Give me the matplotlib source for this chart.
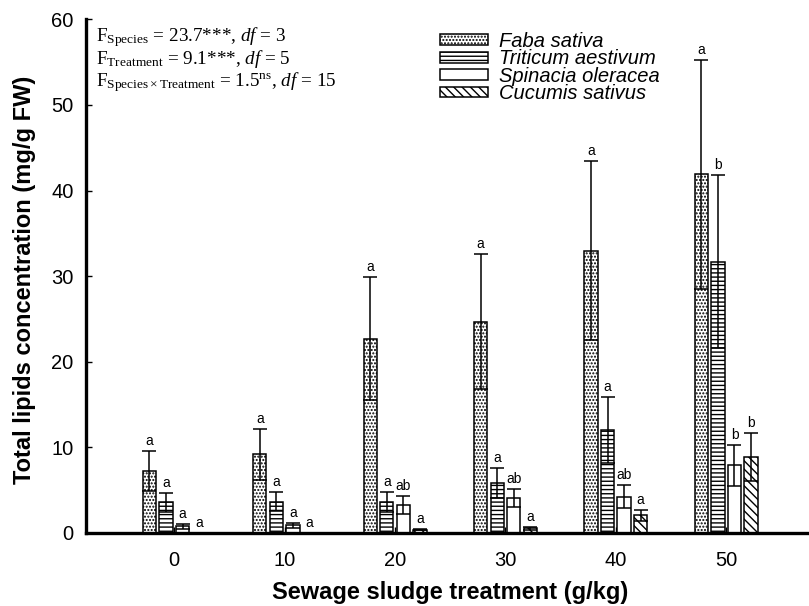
import matplotlib
matplotlib.use('Agg')
import matplotlib.pyplot as plt
import numpy as np

# Sewage sludge treatments (g/kg)
treatments = [0, 10, 20, 30, 40, 50]
species = ['Faba sativa', 'Triticum aestivum', 'Spinacia oleracea', 'Cucumis sativus']

# mean total lipids (mg/g FW) and standard errors
faba_mean = [7.25, 9.2, 22.7, 24.7, 33.0, 41.9]
faba_se = [2.35, 2.95, 7.2, 7.9, 10.5, 13.4]
triticum_mean = [3.6, 3.65, 3.65, 5.85, 12.0, 31.7]
triticum_se = [1.1, 1.1, 1.15, 1.8, 3.85, 10.1]
spinacia_mean = [0.8, 0.9, 3.25, 4.1, 4.25, 7.9]
spinacia_se = [0.3, 0.3, 1.05, 1.05, 1.3, 2.4]
cucumis_mean = [0.05, 0.05, 0.4, 0.55, 2.05, 8.9]
cucumis_se = [0.0, 0.0, 0.1, 0.15, 0.6, 2.8]

# significance letters
faba_letters = ['a', 'a', 'a', 'a', 'a', 'a']
triticum_letters = ['a', 'a', 'a', 'a', 'a', 'b']
spinacia_letters = ['a', 'a', 'ab', 'ab', 'ab', 'b']
cucumis_letters = ['a', 'a', 'a', 'a', 'a', 'b']

means = [faba_mean, triticum_mean, spinacia_mean, cucumis_mean]
errs = [faba_se, triticum_se, spinacia_se, cucumis_se]
letters = [faba_letters, triticum_letters, spinacia_letters, cucumis_letters]
hatches = ['.....', '----', '', '\\\\\\\\']
offsets = [-2.25, -0.75, 0.75, 2.25]
width = 1.2

plt.rcParams['font.family'] = ['Liberation Sans', 'DejaVu Sans']
plt.rcParams['mathtext.fontset'] = 'custom'
plt.rcParams['mathtext.rm'] = 'Liberation Serif'
plt.rcParams['mathtext.it'] = 'Liberation Serif:italic'
plt.rcParams['hatch.linewidth'] = 1.0

fig = plt.figure(figsize=(8.09, 6.06), dpi=100)
ax = fig.add_axes([86 / 809, 73 / 606, 1 - 86 / 809, 513.6 / 606])

x = np.array(treatments, dtype=float)
for i in range(4):
    ax.bar(x + offsets[i], means[i], width, color='white', edgecolor='black',
           linewidth=1.1, hatch=hatches[i], label=species[i], zorder=2)
    ax.errorbar(x + offsets[i], means[i], yerr=errs[i], fmt='none', ecolor='black',
                elinewidth=1.1, capsize=4.9, capthick=1.1, zorder=3)
    for j in range(len(treatments)):
        ax.text(x[j] + offsets[i], means[i][j] + errs[i][j] + 0.35, letters[i][j],
                ha='center', va='bottom', fontsize=10)

ax.set_xlim(-8, 57.5)
ax.set_ylim(0, 60)
ax.set_xticks(treatments)
ax.set_yticks([0, 10, 20, 30, 40, 50, 60])
ax.tick_params(direction='in', labelsize=14.5, length=4, width=1, pad=9)
ax.tick_params(axis='x', pad=13)
for s in ['top', 'right']:
    ax.spines[s].set_visible(False)
for s in ['left', 'bottom']:
    ax.spines[s].set_linewidth(2.4)

fig.text(25 / 809, 1 - 280 / 606, 'Total lipids concentration (mg/g FW)', rotation=90,
         ha='center', va='center', fontsize=17, fontweight='bold')
fig.text(450 / 809, 1 - 593 / 606, 'Sewage sludge treatment (g/kg)', ha='center', va='center',
         fontsize=17, fontweight='bold')

stats = [r'F$_{\mathrm{Species}}$ = 23.7***, $\mathit{df}$ = 3',
         r'F$_{\mathrm{Treatment}}$ = 9.1***, $\mathit{df}$ = 5',
         r'F$_{\mathrm{Species}\times\mathrm{Treatment}}$ = 1.5$^{\mathrm{ns}}$, $\mathit{df}$ = 15']
for k, line in enumerate(stats):
    fig.text(96.5 / 809, 1 - (41.7 + 22.5 * k) / 606, line, family='Liberation Serif',
             fontsize=13.8, va='baseline', ha='left')

leg = ax.legend(loc='upper left', bbox_to_anchor=(440 / 809, 1 - 32 / 606),
                bbox_transform=fig.transFigure, frameon=False,
                prop={'style': 'italic', 'size': 14.5}, handlelength=2.4, handleheight=0.45,
                labelspacing=-0.08, handletextpad=0.55, borderaxespad=0, borderpad=0)

fig.savefig('out.png', dpi=100)
